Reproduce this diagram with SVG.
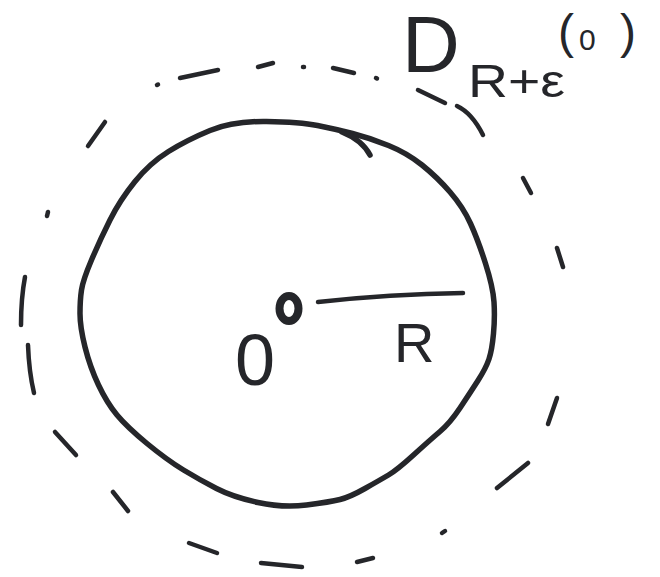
<svg xmlns="http://www.w3.org/2000/svg" width="660" height="577" viewBox="0 0 660 577">
<style>
.ink{fill:none;stroke:#25262a;stroke-linecap:round;stroke-linejoin:round}
.thick{stroke-width:5.5}
.dash{stroke-width:4.5}
.lbl{font-family:"Liberation Sans",Arial,sans-serif;fill:#25262a}
</style>
<rect width="660" height="577" fill="#ffffff"/>
<g id="outer-disk" class="ink dash">
<path d="M157 85 L158 84.5"/>
<path d="M180 78 L218 70"/>
<path d="M258 67 L273 63"/>
<path d="M303 67 L304 67"/>
<path d="M333 68 L354 73"/>
<path d="M376 78 L377 78.5"/>
<path d="M418 90 L445 103"/>
<path d="M457 106 Q472 113 483 135"/>
<path d="M523 178 L531 193"/>
<path d="M557 248 L563 267"/>
<path d="M557 398 L548 424"/>
<path d="M528 463 L497 488"/>
<path d="M445 531 L442 533"/>
<path d="M373 558 L357 562"/>
<path d="M302 567 L261 563"/>
<path d="M217 553 L189 543"/>
<path d="M128 511 L113 492"/>
<path d="M76 455 L55 432"/>
<path d="M34 393 Q29 372 28 345"/>
<path d="M21 325 Q21 298 25 277"/>
<path d="M48 212 L47 216"/>
<path d="M88 146 L105 122"/>
</g>
<g id="inner-disk" class="ink thick">
<path d="M210 130.5 Q233 121 266.5 121.5 Q300 122 317.5 125.5 Q335 129 352.5 133.5 Q370 138 388.5 145.5 Q407 153 422 165 Q437 177 450 192 Q463 207 470.5 223.5 Q478 240 485.5 263.5 Q493 287 494 302 Q495 317 493.5 333.5 Q492 350 489 359 Q486 368 478 380.5 Q470 393 460 408 Q450 423 440 431.5 Q430 440 413.5 455 Q397 470 388.5 475 Q380 480 365 488.5 Q350 497 340 499.5 Q330 502 306.5 505 Q283 508 258 502.5 Q233 497 216.5 488.5 Q200 480 183.5 470 Q167 460 147 443.5 Q127 427 117 415 Q107 403 98.5 385 Q90 367 85 347 Q80 327 80 313.5 Q80 300 81.5 290 Q83 280 91.5 260 Q100 240 110 220 Q120 200 135 181.5 Q150 163 168.5 151.5 Q187 140 210 130.5 Z"/>
<path d="M342 132 Q362 140 370 155"/>
</g>
<g id="center" class="ink">
<ellipse cx="289" cy="308.5" rx="9.5" ry="12.5" stroke-width="8"/>
</g>
<g id="radius" class="ink">
<path d="M318 302 Q390 294 463 293" stroke-width="4.5"/>
</g>
<g id="labels" class="lbl">
<text x="255" y="385" font-size="72" text-anchor="middle">0</text>
<text x="394" y="362" font-size="56">R</text>
<text x="402" y="72" font-size="80">D</text>
<text x="468" y="97" font-size="46" textLength="97" lengthAdjust="spacingAndGlyphs">R+ε</text>
<text y="48" font-size="48"><tspan x="558">(</tspan><tspan x="579" y="50" font-size="30">0</tspan><tspan x="620" y="48">)</tspan></text>
</g>
</svg>
